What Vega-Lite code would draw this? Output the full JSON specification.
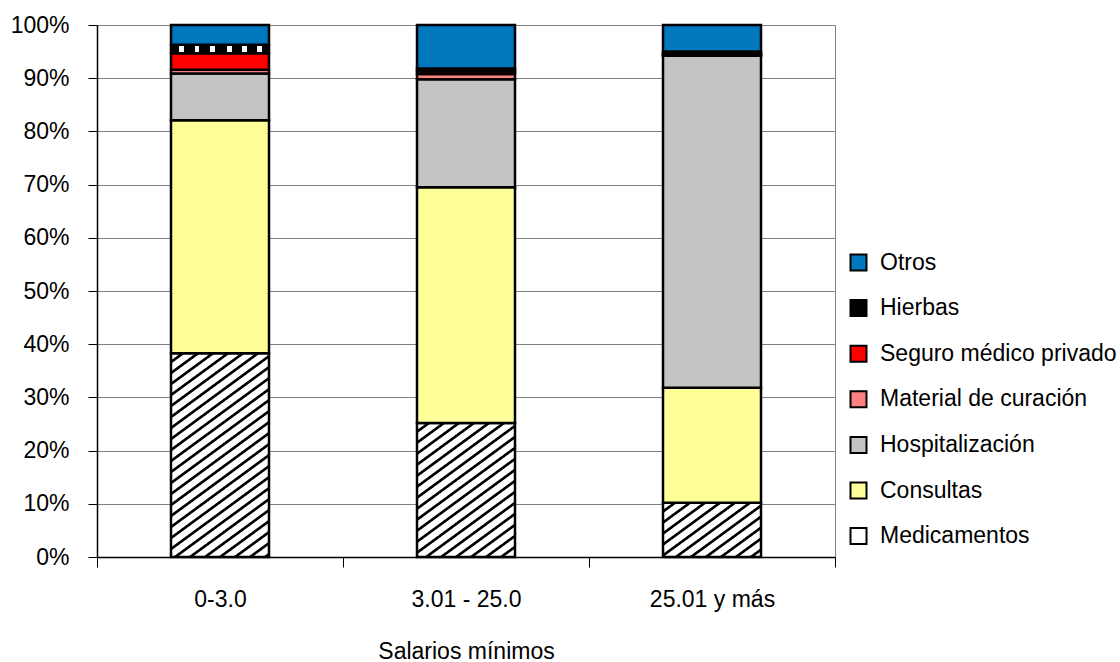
{
  "$schema": "https://vega.github.io/schema/vega-lite/v6.json",
  "width": 738,
  "height": 532,
  "autosize": "none",
  "padding": {"left": 97, "top": 25, "right": 285, "bottom": 105},
  "background": "white",
  "config": {"font": "Liberation Sans", "view": {"stroke": "#808080", "strokeWidth": 1}},
  "data": {"values": [
    {"grupo": "0-3.0", "categoria": "Medicamentos", "valor": 38.3, "orden": 1},
    {"grupo": "0-3.0", "categoria": "Consultas", "valor": 43.8, "orden": 2},
    {"grupo": "0-3.0", "categoria": "Hospitalización", "valor": 8.8, "orden": 3},
    {"grupo": "0-3.0", "categoria": "Material de curación", "valor": 0.7, "orden": 4},
    {"grupo": "0-3.0", "categoria": "Seguro médico privado", "valor": 3.1, "orden": 5},
    {"grupo": "0-3.0", "categoria": "Hierbas", "valor": 1.6, "orden": 6},
    {"grupo": "0-3.0", "categoria": "Otros", "valor": 3.7, "orden": 7},
    {"grupo": "3.01 - 25.0", "categoria": "Medicamentos", "valor": 25.2, "orden": 1},
    {"grupo": "3.01 - 25.0", "categoria": "Consultas", "valor": 44.3, "orden": 2},
    {"grupo": "3.01 - 25.0", "categoria": "Hospitalización", "valor": 20.3, "orden": 3},
    {"grupo": "3.01 - 25.0", "categoria": "Material de curación", "valor": 1.0, "orden": 4},
    {"grupo": "3.01 - 25.0", "categoria": "Seguro médico privado", "valor": 0.5, "orden": 5},
    {"grupo": "3.01 - 25.0", "categoria": "Hierbas", "valor": 0.5, "orden": 6},
    {"grupo": "3.01 - 25.0", "categoria": "Otros", "valor": 8.2, "orden": 7},
    {"grupo": "25.01 y más", "categoria": "Medicamentos", "valor": 10.2, "orden": 1},
    {"grupo": "25.01 y más", "categoria": "Consultas", "valor": 21.6, "orden": 2},
    {"grupo": "25.01 y más", "categoria": "Hospitalización", "valor": 62.4, "orden": 3},
    {"grupo": "25.01 y más", "categoria": "Material de curación", "valor": 0.1, "orden": 4},
    {"grupo": "25.01 y más", "categoria": "Seguro médico privado", "valor": 0.3, "orden": 5},
    {"grupo": "25.01 y más", "categoria": "Hierbas", "valor": 0.4, "orden": 6},
    {"grupo": "25.01 y más", "categoria": "Otros", "valor": 5.0, "orden": 7}
  ]},
  "mark": {"type": "bar", "size": 98, "stroke": "black", "strokeWidth": 2.5},
  "encoding": {
    "x": {
      "field": "grupo", "type": "nominal",
      "sort": ["0-3.0", "3.01 - 25.0", "25.01 y más"],
      "scale": {"paddingInner": 0, "paddingOuter": 0},
      "axis": {
        "title": "Salarios mínimos", "labelAngle": 0, "labelFontSize": 23, "labelColor": "black",
        "labelPadding": 21, "tickBand": "extent", "tickSize": 10, "tickColor": "black", "tickWidth": 1,
        "domainColor": "black", "domainWidth": 1.5, "titleFontSize": 23, "titleFontWeight": "normal",
        "titleColor": "black", "titlePadding": 29
      }
    },
    "y": {
      "field": "valor", "type": "quantitative", "stack": "zero",
      "scale": {"domain": [0, 100], "nice": false},
      "axis": {
        "title": null, "values": [0, 10, 20, 30, 40, 50, 60, 70, 80, 90, 100],
        "labelExpr": "datum.value + '%'", "labelFontSize": 23, "labelColor": "black",
        "labelPadding": 19, "tickSize": 9, "tickColor": "black", "tickWidth": 1,
        "domainColor": "black", "domainWidth": 1.5, "grid": true, "gridColor": "#808080", "gridWidth": 1
      }
    },
    "order": {"field": "orden", "type": "quantitative"},
    "fill": {
      "condition": [
        {"test": "datum.categoria === 'Medicamentos' && datum.grupo === '0-3.0'", "value": {"gradient": "linear", "x1": 0, "y1": 0, "x2": 0.4401, "y2": 1.2481, "stops": [
          {"offset": 0, "color": "#fff"}, {"offset": 0.0231, "color": "#fff"}, {"offset": 0.0269, "color": "#000"}, {"offset": 0.0346, "color": "#000"},
          {"offset": 0.0385, "color": "#fff"}, {"offset": 0.0615, "color": "#fff"}, {"offset": 0.0654, "color": "#000"}, {"offset": 0.0731, "color": "#000"},
          {"offset": 0.0769, "color": "#fff"}, {"offset": 0.1000, "color": "#fff"}, {"offset": 0.1038, "color": "#000"}, {"offset": 0.1115, "color": "#000"},
          {"offset": 0.1154, "color": "#fff"}, {"offset": 0.1385, "color": "#fff"}, {"offset": 0.1423, "color": "#000"}, {"offset": 0.1500, "color": "#000"},
          {"offset": 0.1538, "color": "#fff"}, {"offset": 0.1769, "color": "#fff"}, {"offset": 0.1808, "color": "#000"}, {"offset": 0.1885, "color": "#000"},
          {"offset": 0.1923, "color": "#fff"}, {"offset": 0.2154, "color": "#fff"}, {"offset": 0.2192, "color": "#000"}, {"offset": 0.2269, "color": "#000"},
          {"offset": 0.2308, "color": "#fff"}, {"offset": 0.2538, "color": "#fff"}, {"offset": 0.2577, "color": "#000"}, {"offset": 0.2654, "color": "#000"},
          {"offset": 0.2692, "color": "#fff"}, {"offset": 0.2923, "color": "#fff"}, {"offset": 0.2962, "color": "#000"}, {"offset": 0.3038, "color": "#000"},
          {"offset": 0.3077, "color": "#fff"}, {"offset": 0.3308, "color": "#fff"}, {"offset": 0.3346, "color": "#000"}, {"offset": 0.3423, "color": "#000"},
          {"offset": 0.3462, "color": "#fff"}, {"offset": 0.3692, "color": "#fff"}, {"offset": 0.3731, "color": "#000"}, {"offset": 0.3808, "color": "#000"},
          {"offset": 0.3846, "color": "#fff"}, {"offset": 0.4077, "color": "#fff"}, {"offset": 0.4115, "color": "#000"}, {"offset": 0.4192, "color": "#000"},
          {"offset": 0.4231, "color": "#fff"}, {"offset": 0.4462, "color": "#fff"}, {"offset": 0.4500, "color": "#000"}, {"offset": 0.4577, "color": "#000"},
          {"offset": 0.4615, "color": "#fff"}, {"offset": 0.4846, "color": "#fff"}, {"offset": 0.4885, "color": "#000"}, {"offset": 0.4962, "color": "#000"},
          {"offset": 0.5000, "color": "#fff"}, {"offset": 0.5231, "color": "#fff"}, {"offset": 0.5269, "color": "#000"}, {"offset": 0.5346, "color": "#000"},
          {"offset": 0.5385, "color": "#fff"}, {"offset": 0.5615, "color": "#fff"}, {"offset": 0.5654, "color": "#000"}, {"offset": 0.5731, "color": "#000"},
          {"offset": 0.5769, "color": "#fff"}, {"offset": 0.6000, "color": "#fff"}, {"offset": 0.6038, "color": "#000"}, {"offset": 0.6115, "color": "#000"},
          {"offset": 0.6154, "color": "#fff"}, {"offset": 0.6385, "color": "#fff"}, {"offset": 0.6423, "color": "#000"}, {"offset": 0.6500, "color": "#000"},
          {"offset": 0.6538, "color": "#fff"}, {"offset": 0.6769, "color": "#fff"}, {"offset": 0.6808, "color": "#000"}, {"offset": 0.6885, "color": "#000"},
          {"offset": 0.6923, "color": "#fff"}, {"offset": 0.7154, "color": "#fff"}, {"offset": 0.7192, "color": "#000"}, {"offset": 0.7269, "color": "#000"},
          {"offset": 0.7308, "color": "#fff"}, {"offset": 0.7538, "color": "#fff"}, {"offset": 0.7577, "color": "#000"}, {"offset": 0.7654, "color": "#000"},
          {"offset": 0.7692, "color": "#fff"}, {"offset": 0.7923, "color": "#fff"}, {"offset": 0.7962, "color": "#000"}, {"offset": 0.8038, "color": "#000"},
          {"offset": 0.8077, "color": "#fff"}, {"offset": 0.8308, "color": "#fff"}, {"offset": 0.8346, "color": "#000"}, {"offset": 0.8423, "color": "#000"},
          {"offset": 0.8462, "color": "#fff"}, {"offset": 0.8692, "color": "#fff"}, {"offset": 0.8731, "color": "#000"}, {"offset": 0.8808, "color": "#000"},
          {"offset": 0.8846, "color": "#fff"}, {"offset": 0.9077, "color": "#fff"}, {"offset": 0.9115, "color": "#000"}, {"offset": 0.9192, "color": "#000"},
          {"offset": 0.9231, "color": "#fff"}, {"offset": 0.9462, "color": "#fff"}, {"offset": 0.9500, "color": "#000"}, {"offset": 0.9577, "color": "#000"},
          {"offset": 0.9615, "color": "#fff"}, {"offset": 0.9846, "color": "#fff"}, {"offset": 0.9885, "color": "#000"}, {"offset": 0.9962, "color": "#000"},
          {"offset": 1, "color": "#fff"}
        ]}},
        {"test": "datum.categoria === 'Medicamentos' && datum.grupo === '3.01 - 25.0'", "value": {"gradient": "linear", "x1": 0, "y1": 0, "x2": 0.6489, "y2": 1.2109, "stops": [
          {"offset": 0, "color": "#fff"}, {"offset": 0.0316, "color": "#fff"}, {"offset": 0.0368, "color": "#000"}, {"offset": 0.0474, "color": "#000"},
          {"offset": 0.0526, "color": "#fff"}, {"offset": 0.0842, "color": "#fff"}, {"offset": 0.0895, "color": "#000"}, {"offset": 0.1000, "color": "#000"},
          {"offset": 0.1053, "color": "#fff"}, {"offset": 0.1368, "color": "#fff"}, {"offset": 0.1421, "color": "#000"}, {"offset": 0.1526, "color": "#000"},
          {"offset": 0.1579, "color": "#fff"}, {"offset": 0.1895, "color": "#fff"}, {"offset": 0.1947, "color": "#000"}, {"offset": 0.2053, "color": "#000"},
          {"offset": 0.2105, "color": "#fff"}, {"offset": 0.2421, "color": "#fff"}, {"offset": 0.2474, "color": "#000"}, {"offset": 0.2579, "color": "#000"},
          {"offset": 0.2632, "color": "#fff"}, {"offset": 0.2947, "color": "#fff"}, {"offset": 0.3000, "color": "#000"}, {"offset": 0.3105, "color": "#000"},
          {"offset": 0.3158, "color": "#fff"}, {"offset": 0.3474, "color": "#fff"}, {"offset": 0.3526, "color": "#000"}, {"offset": 0.3632, "color": "#000"},
          {"offset": 0.3684, "color": "#fff"}, {"offset": 0.4000, "color": "#fff"}, {"offset": 0.4053, "color": "#000"}, {"offset": 0.4158, "color": "#000"},
          {"offset": 0.4211, "color": "#fff"}, {"offset": 0.4526, "color": "#fff"}, {"offset": 0.4579, "color": "#000"}, {"offset": 0.4684, "color": "#000"},
          {"offset": 0.4737, "color": "#fff"}, {"offset": 0.5053, "color": "#fff"}, {"offset": 0.5105, "color": "#000"}, {"offset": 0.5211, "color": "#000"},
          {"offset": 0.5263, "color": "#fff"}, {"offset": 0.5579, "color": "#fff"}, {"offset": 0.5632, "color": "#000"}, {"offset": 0.5737, "color": "#000"},
          {"offset": 0.5789, "color": "#fff"}, {"offset": 0.6105, "color": "#fff"}, {"offset": 0.6158, "color": "#000"}, {"offset": 0.6263, "color": "#000"},
          {"offset": 0.6316, "color": "#fff"}, {"offset": 0.6632, "color": "#fff"}, {"offset": 0.6684, "color": "#000"}, {"offset": 0.6789, "color": "#000"},
          {"offset": 0.6842, "color": "#fff"}, {"offset": 0.7158, "color": "#fff"}, {"offset": 0.7211, "color": "#000"}, {"offset": 0.7316, "color": "#000"},
          {"offset": 0.7368, "color": "#fff"}, {"offset": 0.7684, "color": "#fff"}, {"offset": 0.7737, "color": "#000"}, {"offset": 0.7842, "color": "#000"},
          {"offset": 0.7895, "color": "#fff"}, {"offset": 0.8211, "color": "#fff"}, {"offset": 0.8263, "color": "#000"}, {"offset": 0.8368, "color": "#000"},
          {"offset": 0.8421, "color": "#fff"}, {"offset": 0.8737, "color": "#fff"}, {"offset": 0.8789, "color": "#000"}, {"offset": 0.8895, "color": "#000"},
          {"offset": 0.8947, "color": "#fff"}, {"offset": 0.9263, "color": "#fff"}, {"offset": 0.9316, "color": "#000"}, {"offset": 0.9421, "color": "#000"},
          {"offset": 0.9474, "color": "#fff"}, {"offset": 0.9789, "color": "#fff"}, {"offset": 0.9842, "color": "#000"}, {"offset": 0.9947, "color": "#000"},
          {"offset": 1, "color": "#fff"}
        ]}},
        {"test": "datum.categoria === 'Medicamentos' && datum.grupo === '25.01 y más'", "value": {"gradient": "linear", "x1": 0, "y1": 0, "x2": 1.1692, "y2": 0.8834, "stops": [
          {"offset": 0, "color": "#fff"}, {"offset": 0.05, "color": "#fff"}, {"offset": 0.0583, "color": "#000"}, {"offset": 0.075, "color": "#000"},
          {"offset": 0.0833, "color": "#fff"}, {"offset": 0.1333, "color": "#fff"}, {"offset": 0.1417, "color": "#000"}, {"offset": 0.1583, "color": "#000"},
          {"offset": 0.1667, "color": "#fff"}, {"offset": 0.2167, "color": "#fff"}, {"offset": 0.225, "color": "#000"}, {"offset": 0.2417, "color": "#000"},
          {"offset": 0.25, "color": "#fff"}, {"offset": 0.3, "color": "#fff"}, {"offset": 0.3083, "color": "#000"}, {"offset": 0.325, "color": "#000"},
          {"offset": 0.3333, "color": "#fff"}, {"offset": 0.3833, "color": "#fff"}, {"offset": 0.3917, "color": "#000"}, {"offset": 0.4083, "color": "#000"},
          {"offset": 0.4167, "color": "#fff"}, {"offset": 0.4667, "color": "#fff"}, {"offset": 0.475, "color": "#000"}, {"offset": 0.4917, "color": "#000"},
          {"offset": 0.5, "color": "#fff"}, {"offset": 0.55, "color": "#fff"}, {"offset": 0.5583, "color": "#000"}, {"offset": 0.575, "color": "#000"},
          {"offset": 0.5833, "color": "#fff"}, {"offset": 0.6333, "color": "#fff"}, {"offset": 0.6417, "color": "#000"}, {"offset": 0.6583, "color": "#000"},
          {"offset": 0.6667, "color": "#fff"}, {"offset": 0.7167, "color": "#fff"}, {"offset": 0.725, "color": "#000"}, {"offset": 0.7417, "color": "#000"},
          {"offset": 0.75, "color": "#fff"}, {"offset": 0.8, "color": "#fff"}, {"offset": 0.8083, "color": "#000"}, {"offset": 0.825, "color": "#000"},
          {"offset": 0.8333, "color": "#fff"}, {"offset": 0.8833, "color": "#fff"}, {"offset": 0.8917, "color": "#000"}, {"offset": 0.9083, "color": "#000"},
          {"offset": 0.9167, "color": "#fff"}, {"offset": 0.9667, "color": "#fff"}, {"offset": 0.975, "color": "#000"}, {"offset": 0.9917, "color": "#000"},
          {"offset": 1, "color": "#fff"}
        ]}},
        {"test": "datum.categoria === 'Hierbas' && datum.grupo === '0-3.0'", "value": {"gradient": "linear", "x1": 0, "y1": 0, "x2": 1, "y2": 0, "stops": [
          {"offset": 0, "color": "#000"}, {"offset": 0.08, "color": "#000"}, {"offset": 0.08, "color": "#fff"}, {"offset": 0.13, "color": "#fff"},
          {"offset": 0.13, "color": "#000"}, {"offset": 0.24, "color": "#000"}, {"offset": 0.24, "color": "#fff"}, {"offset": 0.29, "color": "#fff"},
          {"offset": 0.29, "color": "#000"}, {"offset": 0.40, "color": "#000"}, {"offset": 0.40, "color": "#fff"}, {"offset": 0.45, "color": "#fff"},
          {"offset": 0.45, "color": "#000"}, {"offset": 0.57, "color": "#000"}, {"offset": 0.57, "color": "#fff"}, {"offset": 0.62, "color": "#fff"},
          {"offset": 0.62, "color": "#000"}, {"offset": 0.72, "color": "#000"}, {"offset": 0.72, "color": "#fff"}, {"offset": 0.775, "color": "#fff"},
          {"offset": 0.775, "color": "#000"}, {"offset": 0.875, "color": "#000"}, {"offset": 0.875, "color": "#fff"}, {"offset": 0.93, "color": "#fff"},
          {"offset": 0.93, "color": "#000"}, {"offset": 1, "color": "#000"}
        ]}}
      ],
      "field": "categoria", "type": "nominal",
      "scale": {
        "domain": ["Otros", "Hierbas", "Seguro médico privado", "Material de curación", "Hospitalización", "Consultas", "Medicamentos"],
        "range": ["#0078BE", "#000000", "#FF0000", "#FF8080", "#C4C4C4", "#FFFF99", "#FFFFFF"]
      },
      "legend": {
        "title": null, "orient": "none", "legendX": 750, "legendY": 226, "direction": "vertical",
        "symbolType": "square", "symbolSize": 256, "symbolStrokeWidth": 2,
        "labelFontSize": 23, "labelColor": "black", "labelOffset": 10, "labelLimit": 400, "rowPadding": 20.6, "padding": 0
      }
    }
  }
}
